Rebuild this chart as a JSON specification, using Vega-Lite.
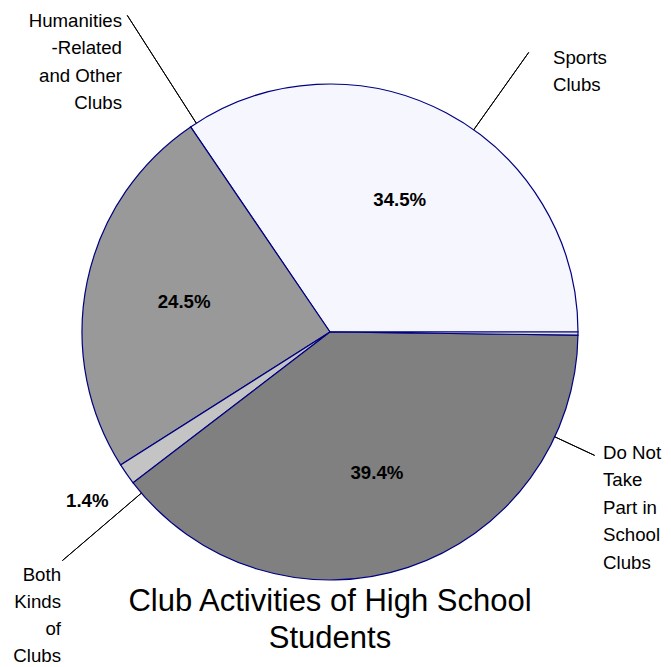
{
  "$schema": "https://vega.github.io/schema/vega-lite/v6.json",
  "width": 660,
  "height": 664,
  "autosize": "none",
  "padding": {"left": 0, "top": 0, "right": 11, "bottom": 3},
  "background": "white",
  "view": {"stroke": null},
  "config": {"font": "Liberation Sans"},
  "title": {
    "text": ["Club Activities of High School", "Students"],
    "orient": "bottom",
    "anchor": "middle",
    "frame": "group",
    "offset": -79,
    "font": "Liberation Sans",
    "fontSize": 31,
    "fontWeight": "normal",
    "lineHeight": 37,
    "color": "#000000"
  },
  "data": {
    "values": [
      {"category": "Sports Clubs", "label": "Sports\nClubs", "value": 0.345},
      {"category": "Humanities-Related and Other Clubs", "label": "Humanities\n-Related\nand Other\nClubs", "value": 0.245},
      {"category": "Both Kinds of Clubs", "label": "Both\nKinds\nof\nClubs", "value": 0.014},
      {"category": "Do Not Take Part in School Clubs", "label": "Do Not\nTake\nPart in\nSchool\nClubs", "value": 0.394},
      {"category": "No Answer", "label": "", "value": 0.002}
    ]
  },
  "transform": [
    {"stack": "value", "groupby": [], "as": ["a0", "a1"]}
  ],
  "layer": [
    {
      "mark": {"type": "arc", "outerRadius": 248, "stroke": "#000080", "strokeWidth": 1.2},
      "encoding": {
        "theta": {"field": "a0", "type": "quantitative", "stack": null, "scale": {"domain": [0, 1], "range": [1.5707963267948966, -4.71238898038469]}},
        "theta2": {"field": "a1"},
        "color": {
          "field": "category", "type": "nominal", "legend": null,
          "scale": {
            "domain": ["Sports Clubs", "Humanities-Related and Other Clubs", "Both Kinds of Clubs", "Do Not Take Part in School Clubs", "No Answer"],
            "range": ["#f6f6fe", "#999999", "#c4c4c4", "#808080", "#dcdcdc"]
          }
        }
      }
    },
    {
      "mark": {"type": "text", "radius": 149, "font": "Liberation Sans", "fontSize": 18.67, "fontWeight": "bold", "color": "#000000", "baseline": "middle", "align": "center"},
      "encoding": {
        "theta": {"field": "value", "type": "quantitative", "stack": true, "scale": {"domain": [0, 1], "range": [1.5707963267948966, -4.71238898038469]}},
        "order": {"field": "a0", "type": "quantitative"},
        "detail": {"field": "category"},
        "text": {"condition": {"test": "datum.value < 0.05", "value": ""}, "field": "value", "type": "quantitative", "format": ".1%"}
      }
    },
    {
      "mark": {"type": "text", "radius": 296, "font": "Liberation Sans", "fontSize": 18.67, "fontWeight": "bold", "color": "#000000", "baseline": "middle", "align": "center"},
      "encoding": {
        "theta": {"field": "value", "type": "quantitative", "stack": true, "scale": {"domain": [0, 1], "range": [1.5707963267948966, -4.71238898038469]}},
        "order": {"field": "a0", "type": "quantitative"},
        "detail": {"field": "category"},
        "text": {"condition": {"test": "datum.category !== 'Both Kinds of Clubs'", "value": ""}, "field": "value", "type": "quantitative", "format": ".1%"}
      }
    },
    {
      "transform": [{"filter": {"field": "category", "equal": "Sports Clubs"}}],
      "mark": {"type": "text", "radius": 360.3, "thetaOffset": -0.9034, "align": "left", "baseline": "top", "lineBreak": "\n", "lineHeight": 27.4, "font": "Liberation Sans", "fontSize": 18.67, "color": "#000000"},
      "encoding": {
        "theta": {"field": "a0", "type": "quantitative", "stack": null, "scale": {"domain": [0, 1], "range": [1.5707963267948966, -4.71238898038469]}},
        "text": {"field": "label"}
      }
    },
    {
      "transform": [{"filter": {"field": "category", "equal": "Humanities-Related and Other Clubs"}}],
      "mark": {"type": "text", "radius": 381.7, "thetaOffset": 0.0206, "align": "right", "baseline": "top", "lineBreak": "\n", "lineHeight": 27.4, "font": "Liberation Sans", "fontSize": 18.67, "color": "#000000"},
      "encoding": {
        "theta": {"field": "a0", "type": "quantitative", "stack": null, "scale": {"domain": [0, 1], "range": [1.5707963267948966, -4.71238898038469]}},
        "text": {"field": "label"}
      }
    },
    {
      "transform": [{"filter": {"field": "category", "equal": "Do Not Take Part in School Clubs"}}],
      "mark": {"type": "text", "radius": 295.1, "thetaOffset": -2.0988, "align": "left", "baseline": "top", "lineBreak": "\n", "lineHeight": 27.4, "font": "Liberation Sans", "fontSize": 18.67, "color": "#000000"},
      "encoding": {
        "theta": {"field": "a0", "type": "quantitative", "stack": null, "scale": {"domain": [0, 1], "range": [1.5707963267948966, -4.71238898038469]}},
        "text": {"field": "label"}
      }
    },
    {
      "transform": [{"filter": {"field": "category", "equal": "Both Kinds of Clubs"}}],
      "mark": {"type": "text", "radius": 356.5, "thetaOffset": -0.1504, "align": "right", "baseline": "top", "lineBreak": "\n", "lineHeight": 27, "font": "Liberation Sans", "fontSize": 18.67, "color": "#000000"},
      "encoding": {
        "theta": {"field": "a0", "type": "quantitative", "stack": null, "scale": {"domain": [0, 1], "range": [1.5707963267948966, -4.71238898038469]}},
        "text": {"field": "label"}
      }
    },
    {
      "transform": [{"filter": {"field": "category", "equal": "Sports Clubs"}}],
      "mark": {"type": "arc", "filled": false, "stroke": "#000000", "strokeWidth": 1, "radius": 343, "radius2": 248, "thetaOffset": -0.9529, "theta2Offset": -0.9529},
      "encoding": {
        "theta": {"field": "a0", "type": "quantitative", "stack": null, "scale": {"domain": [0, 1], "range": [1.5707963267948966, -4.71238898038469]}},
        "theta2": {"field": "a0"}
      }
    },
    {
      "transform": [{"filter": {"field": "category", "equal": "Humanities-Related and Other Clubs"}}],
      "mark": {"type": "arc", "filled": false, "stroke": "#000000", "strokeWidth": 1, "radius": 376, "radius2": 248, "thetaOffset": 0.0274, "theta2Offset": 0.0274},
      "encoding": {
        "theta": {"field": "a0", "type": "quantitative", "stack": null, "scale": {"domain": [0, 1], "range": [1.5707963267948966, -4.71238898038469]}},
        "theta2": {"field": "a0"}
      }
    },
    {
      "transform": [{"filter": {"field": "category", "equal": "Do Not Take Part in School Clubs"}}],
      "mark": {"type": "arc", "filled": false, "stroke": "#000000", "strokeWidth": 1, "radius": 292, "radius2": 248, "thetaOffset": -2.0518, "theta2Offset": -2.0518},
      "encoding": {
        "theta": {"field": "a0", "type": "quantitative", "stack": null, "scale": {"domain": [0, 1], "range": [1.5707963267948966, -4.71238898038469]}},
        "theta2": {"field": "a0"}
      }
    },
    {
      "transform": [{"filter": {"field": "category", "equal": "Both Kinds of Clubs"}}],
      "mark": {"type": "arc", "filled": false, "stroke": "#000000", "strokeWidth": 1, "radius": 352, "radius2": 248, "thetaOffset": -0.1414, "theta2Offset": -0.1414},
      "encoding": {
        "theta": {"field": "a0", "type": "quantitative", "stack": null, "scale": {"domain": [0, 1], "range": [1.5707963267948966, -4.71238898038469]}},
        "theta2": {"field": "a0"}
      }
    }
  ]
}
